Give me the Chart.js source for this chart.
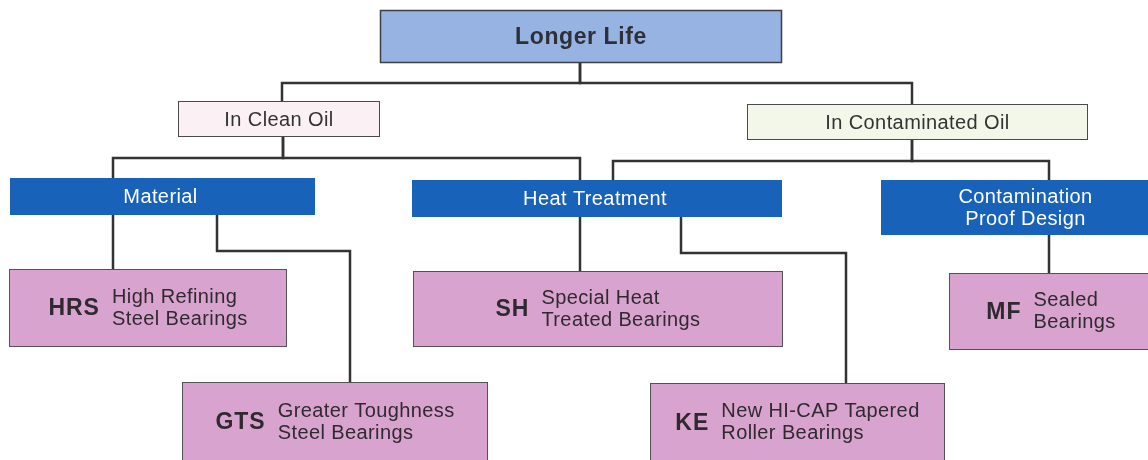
<!DOCTYPE html>
<html>
<head>
<meta charset="utf-8">
<script src="https://cdn.jsdelivr.net/npm/chart.js@4"></script>
<style>
  html, body { margin: 0; padding: 0; background: #fff; }
  #tree { display: block; }
</style>
</head>
<body>
<canvas id="tree" width="1148" height="460"></canvas>
<script>
// node content
const nodeIds = ['root', 'clean', 'contam', 'material', 'heat', 'proof', 'hrs', 'gts', 'sh', 'ke', 'mf']
const nodeTitles = ['Longer Life', 'In Clean Oil', 'In Contaminated Oil', 'Material', 'Heat Treatment',
  'Contamination\nProof Design', '', '', '', '', '']
const nodeCodes = ['', '', '', '', '', '', 'HRS', 'GTS', 'SH', 'KE', 'MF']
const nodeDescriptions = ['', '', '', '', '', '',
  'High Refining\nSteel Bearings',
  'Greater Toughness\nSteel Bearings',
  'Special Heat\nTreated Bearings',
  'New HI-CAP Tapered\nRoller Bearings',
  'Sealed\nBearings']
const nodeKinds = ['root', 'branch', 'branch', 'group', 'group', 'group', 'leaf', 'leaf', 'leaf', 'leaf', 'leaf']

// links: parent, child
const linkParents = ['root', 'root', 'clean', 'clean', 'contam', 'contam', 'material', 'material', 'heat', 'heat', 'proof']
const linkChildren = ['clean', 'contam', 'material', 'heat', 'heat', 'proof', 'hrs', 'gts', 'sh', 'ke', 'mf']

// layout (axis units, y grows downward)
const boxLeft   = [380, 178, 747, 10, 412, 881, 9, 182, 413, 650, 949]
const boxRight  = [782, 380, 1088, 315, 782, 1170, 287, 488, 783, 945, 1153]
const boxTop    = [10, 101, 104, 178, 180, 180, 269, 382, 271, 383, 273]
const boxBottom = [63, 137, 140, 215, 217, 235, 347, 462, 347, 462, 350]
const linkFromX = [580, 580, 283, 283, 912, 912, 113, 217, 580, 681, 1049]
const linkBusY  = [83, 83, 158, 158, 161, 161, 240, 251, 240, 253, 250]
const linkToX   = [282, 912, 113, 580, 613, 1049, 113, 350, 580, 846, 1049]

const fontFamily = '"Liberation Sans", Arial, sans-serif'
const kindStyle = {
  root:   { fill: '#97b3e2', stroke: '#3c3f48', lineWidth: 1.5, color: '#2e3038', font: 'bold 23px ' + fontFamily, spacing: '0.6px' },
  branch: { fill: null, stroke: '#4a4a4a', lineWidth: 1, color: '#333', font: '20px ' + fontFamily, spacing: '0.4px' },
  group:  { fill: '#1862b9', stroke: null, lineWidth: 0, color: '#ffffff', font: '20px ' + fontFamily, spacing: '0.4px' },
  leaf:   { fill: '#d9a3cf', stroke: '#555055', lineWidth: 1, color: '#2f2a30', font: '20px ' + fontFamily, spacing: '0.4px' }
}
const branchFills = { clean: '#fbf0f4', contam: '#f2f7ea' }
const codeFont = 'bold 23px ' + fontFamily

const idx = id => nodeIds.indexOf(id)

// connector polylines built from the link table
const connectorSets = linkParents.map((p, i) => {
  const pi = idx(p), ci = idx(linkChildren[i])
  return {
    data: [
      { x: linkFromX[i], y: boxBottom[pi] },
      { x: linkFromX[i], y: linkBusY[i] },
      { x: linkToX[i], y: linkBusY[i] },
      { x: linkToX[i], y: boxTop[ci] }
    ],
    showLine: true,
    borderColor: '#333333',
    borderWidth: 2.5,
    pointRadius: 0,
    tension: 0,
    borderCapStyle: 'square',
    borderJoinStyle: 'miter'
  }
})

const boxesPlugin = {
  id: 'boxes',
  afterDatasetsDraw(chart) {
    const ctx = chart.ctx
    const xs = chart.scales.x, ys = chart.scales.y
    ctx.save()
    nodeIds.forEach((id, i) => {
      const kind = nodeKinds[i]
      const st = kindStyle[kind]
      const x0 = xs.getPixelForValue(boxLeft[i]), x1 = xs.getPixelForValue(boxRight[i])
      const y0 = ys.getPixelForValue(boxTop[i]), y1 = ys.getPixelForValue(boxBottom[i])
      const fill = kind === 'branch' ? branchFills[id] : st.fill
      ctx.fillStyle = fill
      ctx.fillRect(x0, y0, x1 - x0, y1 - y0)
      if (st.stroke) {
        ctx.strokeStyle = st.stroke
        ctx.lineWidth = st.lineWidth
        ctx.strokeRect(x0 + 0.5, y0 + 0.5, x1 - x0 - 1, y1 - y0 - 1)
      }
      const cx = (x0 + x1) / 2, cy = (y0 + y1) / 2
      ctx.fillStyle = st.color
      ctx.textBaseline = 'middle'
      ctx.letterSpacing = st.spacing
      if (kind === 'leaf') {
        const lines = nodeDescriptions[i].split('\n')
        ctx.font = codeFont
        ctx.letterSpacing = '1px'
        const codeW = ctx.measureText(nodeCodes[i]).width
        ctx.font = st.font
        ctx.letterSpacing = st.spacing
        const descW = Math.max(...lines.map(l => ctx.measureText(l).width))
        const gap = 12
        const start = cx - (codeW + gap + descW) / 2
        ctx.textAlign = 'left'
        ctx.font = codeFont
        ctx.letterSpacing = '1px'
        ctx.fillText(nodeCodes[i], start, cy + 1)
        ctx.font = st.font
        ctx.letterSpacing = st.spacing
        lines.forEach((l, k) => {
          ctx.fillText(l, start + codeW + gap, cy + (k - (lines.length - 1) / 2) * 22)
        })
      } else {
        const lines = nodeTitles[i].split('\n')
        ctx.font = st.font
        ctx.textAlign = 'center'
        const tx = id === 'heat' || id === 'material' ? cx - 2 : cx
        lines.forEach((l, k) => {
          ctx.fillText(l, tx, cy + 1 + (k - (lines.length - 1) / 2) * 22)
        })
      }
    })
    ctx.restore()
  }
}

new Chart(document.getElementById('tree'), {
  type: 'scatter',
  data: { datasets: connectorSets },
  options: {
    responsive: false,
    animation: false,
    layout: { padding: 0 },
    plugins: { legend: { display: false }, tooltip: { enabled: false } },
    scales: {
      x: { type: 'linear', min: 0, max: 1148, display: false },
      y: { type: 'linear', min: 0, max: 460, reverse: true, display: false }
    }
  },
  plugins: [boxesPlugin]
})
</script>
</body>
</html>
